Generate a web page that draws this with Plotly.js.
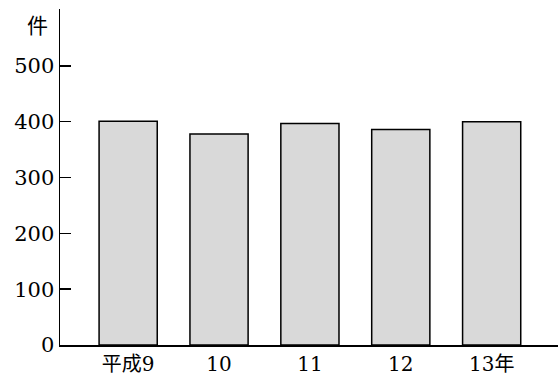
<!DOCTYPE html>
<html>
<head>
<meta charset="utf-8">
<script src="https://cdn.plot.ly/plotly-3.0.1.min.js"></script>
<style>html,body{margin:0;padding:0;background:#fff;}#chart{width:558px;height:374px;}</style>
</head>
<body>
<div id="chart"></div>
<script>
const categories = ["平成9", "10", "11", "12", "13年"];
const values = [401, 378, 397, 386, 400];
const yTickVals = [0, 100, 200, 300, 400, 500];
const yTickText = ["0", "100", "200", "300", "400", "500"];
const unitLabel = "件";

const fontFam = "DejaVu Serif, Noto Sans CJK JP, serif";

const trace = {
  type: "bar",
  x: categories.map((c, i) => i),
  y: values,
  width: 0.64,
  marker: { color: "#d9d9d9", line: { color: "#000", width: 1.5 } },
  hoverinfo: "skip"
};

const layout = {
  width: 558, height: 374,
  margin: { l: 60, r: 0, t: 9, b: 29, pad: 0 },
  paper_bgcolor: "#fff", plot_bgcolor: "#fff",
  showlegend: false,
  font: { family: fontFam, size: 20, color: "#000" },
  xaxis: {
    range: [-0.75, 4.73],
    tickvals: categories.map((c, i) => i),
    ticktext: categories,
    ticks: "",
    showgrid: false, zeroline: false,
    showline: true, linecolor: "#000", linewidth: 1.5,
    tickfont: { family: fontFam, size: 20, color: "#000" },
    fixedrange: true
  },
  yaxis: {
    range: [0, 602],
    tickvals: yTickVals,
    ticktext: yTickText,
    ticks: "inside", ticklen: 11, tickwidth: 1.5, tickcolor: "#000",
    showgrid: false, zeroline: false,
    showline: true, linecolor: "#000", linewidth: 1.5,
    tickfont: { family: fontFam, size: 21, color: "#000" },
    fixedrange: true
  },
  annotations: [{
    text: unitLabel, xref: "paper", yref: "paper",
    x: -0.046, y: 0.95, xanchor: "center", yanchor: "middle",
    showarrow: false, font: { family: fontFam, size: 21, color: "#000" }
  }]
};

Plotly.newPlot("chart", [trace], layout, { displayModeBar: false, staticPlot: true });
</script>
</body>
</html>
